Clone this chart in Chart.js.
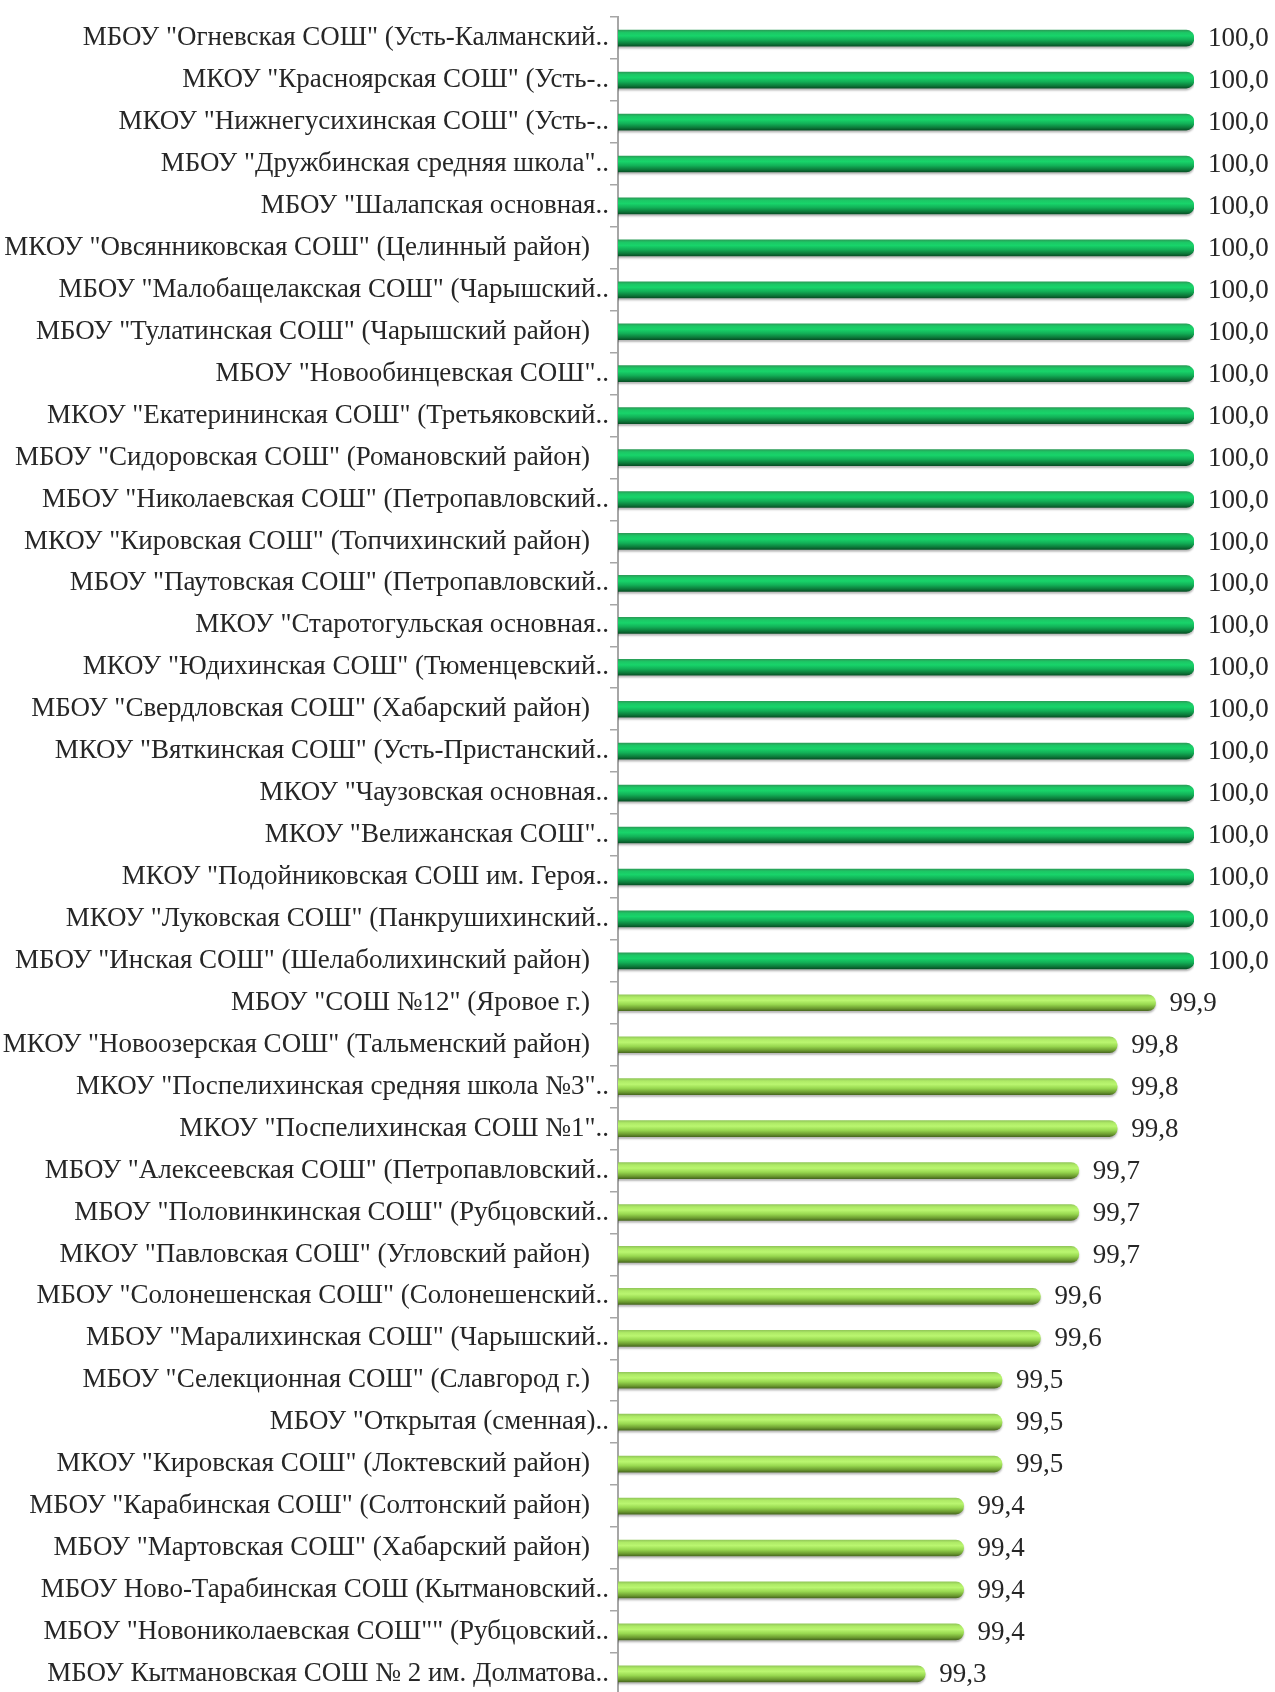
<!DOCTYPE html>
<html>
<head>
<meta charset="utf-8">
<script src="https://cdn.jsdelivr.net/npm/chart.js@4"></script>
<style>
  html, body { margin: 0; padding: 0; overflow: hidden; background: #fff; }
  #wrap { position: relative; width: 1275px; height: 1712px; }
</style>
</head>
<body>
<div id="wrap"><canvas id="c"></canvas></div>
<script>
const categories = [
  'МБОУ "Огневская СОШ" (Усть-Калманский..',
  'МКОУ "Красноярская СОШ" (Усть-..',
  'МКОУ "Нижнегусихинская СОШ" (Усть-..',
  'МБОУ "Дружбинская средняя школа"..',
  'МБОУ "Шалапская основная..',
  'МКОУ "Овсянниковская СОШ" (Целинный район)',
  'МБОУ "Малобащелакская СОШ" (Чарышский..',
  'МБОУ "Тулатинская СОШ" (Чарышский район)',
  'МБОУ "Новообинцевская СОШ"..',
  'МКОУ "Екатерининская СОШ" (Третьяковский..',
  'МБОУ "Сидоровская СОШ" (Романовский район)',
  'МБОУ "Николаевская СОШ" (Петропавловский..',
  'МКОУ "Кировская СОШ" (Топчихинский район)',
  'МБОУ "Паутовская СОШ" (Петропавловский..',
  'МКОУ "Старотогульская основная..',
  'МКОУ "Юдихинская СОШ" (Тюменцевский..',
  'МБОУ "Свердловская СОШ" (Хабарский район)',
  'МКОУ "Вяткинская СОШ" (Усть-Пристанский..',
  'МКОУ "Чаузовская основная..',
  'МКОУ "Велижанская СОШ"..',
  'МКОУ "Подойниковская СОШ им. Героя..',
  'МКОУ "Луковская СОШ" (Панкрушихинский..',
  'МБОУ "Инская СОШ" (Шелаболихинский район)',
  'МБОУ "СОШ №12" (Яровое г.)',
  'МКОУ "Новоозерская СОШ" (Тальменский район)',
  'МКОУ "Поспелихинская средняя школа №3"..',
  'МКОУ "Поспелихинская СОШ №1"..',
  'МБОУ "Алексеевская СОШ" (Петропавловский..',
  'МБОУ "Половинкинская СОШ" (Рубцовский..',
  'МКОУ "Павловская СОШ" (Угловский район)',
  'МБОУ "Солонешенская СОШ" (Солонешенский..',
  'МБОУ "Маралихинская СОШ" (Чарышский..',
  'МБОУ "Селекционная СОШ" (Славгород г.)',
  'МБОУ "Открытая (сменная)..',
  'МКОУ "Кировская СОШ" (Локтевский район)',
  'МБОУ "Карабинская СОШ" (Солтонский район)',
  'МБОУ "Мартовская СОШ" (Хабарский район)',
  'МБОУ Ново-Тарабинская СОШ (Кытмановский..',
  'МБОУ "Новониколаевская СОШ"" (Рубцовский..',
  'МБОУ Кытмановская СОШ № 2 им. Долматова..'
];

const values = [
  100.0, 100.0, 100.0, 100.0, 100.0, 100.0, 100.0, 100.0, 100.0, 100.0,
  100.0, 100.0, 100.0, 100.0, 100.0, 100.0, 100.0, 100.0, 100.0, 100.0,
  100.0, 100.0, 100.0, 99.9, 99.8, 99.8, 99.8, 99.7, 99.7, 99.7,
  99.6, 99.6, 99.5, 99.5, 99.5, 99.4, 99.4, 99.4, 99.4, 99.3
];

const xMin = 98.5;
const xMax = 100;

const BAR_T = 16;
const FONT_SIZE = 27;

function barGradient(ctx, yc, full) {
  const g = ctx.createLinearGradient(0, yc - BAR_T / 2, 0, yc + BAR_T / 2);
  if (full) {
    g.addColorStop(0.00, '#2a9e58');
    g.addColorStop(0.15, '#1cc765');
    g.addColorStop(0.35, '#18d46a');
    g.addColorStop(0.60, '#12b057');
    g.addColorStop(0.85, '#0c7a3a');
    g.addColorStop(1.00, '#075226');
  } else {
    g.addColorStop(0.00, '#93c95a');
    g.addColorStop(0.15, '#aeea66');
    g.addColorStop(0.35, '#baf670');
    g.addColorStop(0.60, '#98d850');
    g.addColorStop(0.85, '#6c9c30');
    g.addColorStop(1.00, '#4a6b20');
  }
  return g;
}

const barGradients = {
  id: 'barGradients',
  beforeDatasetsDraw(chart) {
    const meta = chart.getDatasetMeta(0);
    meta.data.forEach((bar, i) => {
      if (Number.isFinite(bar.y)) {
        bar.options.backgroundColor = barGradient(chart.ctx, bar.y, values[i] >= 100);
      }
    });
  }
};

const valueLabels = {
  id: 'valueLabels',
  afterDatasetsDraw(chart) {
    const ctx = chart.ctx;
    const meta = chart.getDatasetMeta(0);
    ctx.save();
    ctx.font = FONT_SIZE + 'px "Liberation Serif"';
    ctx.fillStyle = '#262626';
    ctx.textAlign = 'left';
    ctx.textBaseline = 'middle';
    meta.data.forEach((bar, i) => {
      const v = chart.data.datasets[0].data[i];
      ctx.fillText(v.toFixed(1).replace('.', ','), bar.x + 14, bar.y + 1);
    });
    ctx.restore();
  }
};

const barShadow = {
  id: 'barShadow',
  beforeDatasetDraw(chart) {
    const ctx = chart.ctx;
    ctx.save();
    ctx.shadowColor = 'rgba(0,0,0,0.28)';
    ctx.shadowOffsetY = 2;
    ctx.shadowOffsetX = 0;
    ctx.shadowBlur = 2;
  },
  afterDatasetDraw(chart) {
    chart.ctx.restore();
  }
};

new Chart(document.getElementById('c'), {
  type: 'bar',
  data: {
    labels: categories,
    datasets: [{
      data: values,
      barThickness: BAR_T,
      borderRadius: BAR_T / 2,
      borderSkipped: 'start',
      backgroundColor: (c) => (values[c.dataIndex] >= 100 ? '#18c060' : '#a6e05a')
    }]
  },
  options: {
    indexAxis: 'y',
    responsive: true,
    maintainAspectRatio: false,
    animation: false,
    layout: { padding: { left: 0, right: 81, top: 15, bottom: 13 } },
    plugins: {
      legend: { display: false },
      tooltip: { enabled: false }
    },
    scales: {
      x: {
        display: false,
        min: xMin,
        max: xMax
      },
      y: {
        afterFit: (axis) => { axis.width = 618; },
        grid: {
          display: true,
          drawOnChartArea: false,
          offset: true,
          tickLength: 8,
          color: '#a6a6a6',
          lineWidth: 1.5
        },
        border: { display: true, color: '#a6a6a6', width: 2 },
        ticks: {
          autoSkip: false,
          padding: 1,
          color: '#262626',
          font: { family: '"Liberation Serif"', size: FONT_SIZE },
          callback: function (value, index) {
            const lbl = categories[index];
            return lbl.endsWith('..') ? lbl : lbl + '\u2002\u2009';
          }
        }
      }
    }
  },
  plugins: [barGradients, barShadow, valueLabels]
});
</script>
</body>
</html>
